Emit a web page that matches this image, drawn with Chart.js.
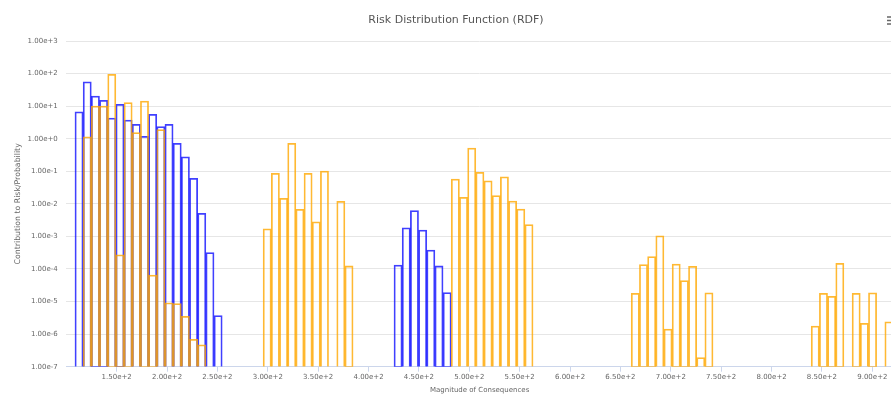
<!DOCTYPE html>
<html>
<head>
<meta charset="utf-8">
<title>Risk Distribution Function (RDF)</title>
<script src="https://cdn.jsdelivr.net/npm/chart.js@4.4.1/dist/chart.umd.min.js"></script>
<style>
    html, body { margin: 0; padding: 0; background: #fff; overflow: hidden; }
    #wrap { width: 912px; height: 397px; }
</style>
</head>
<body>
<div id="wrap"><canvas id="rdfChart" width="912" height="397"></canvas></div>
<script>
// histogram bins: 100 bins of equal width starting at binStart
const binStart = 108.6;
const binWidth = 8.119;

const orangeBins = [1, 2, 3, 4, 5, 6, 7, 8, 9, 10, 11, 12, 13, 14, 15,
    23, 24, 25, 26, 27, 28, 29, 30, 32, 33,
    46, 47, 48, 49, 50, 51, 52, 53, 54, 55,
    68, 69, 70, 71, 72, 73, 74, 75, 76, 77,
    90, 91, 92, 93, 95, 96, 97, 99];
const orangeValues = [1.15, 10.1, 10.1, 95, 2.7e-4, 12.8, 1.53, 14.4, 6.5e-5, 1.9, 9.2e-6, 8.6e-6, 3.5e-6, 6.9e-7, 4.7e-7,
    1.7e-3, 0.087, 0.0148, 0.72, 6.8e-3, 0.087, 2.8e-3, 0.102, 0.012, 1.24e-4,
    0.058, 0.0159, 0.52, 0.093, 0.051, 0.0178, 0.068, 0.0122, 6.9e-3, 2.3e-3,
    1.8e-5, 1.36e-4, 2.4e-4, 1.05e-3, 1.44e-6, 1.42e-4, 4.4e-5, 1.21e-4, 1.9e-7, 1.87e-5,
    1.78e-6, 1.8e-5, 1.45e-5, 1.5e-4, 1.8e-5, 2.15e-6, 1.87e-5, 2.4e-6];

const blueBins = [0, 1, 2, 3, 4, 5, 6, 7, 8, 9, 10, 11, 12, 13, 14, 15, 16, 17,
    39, 40, 41, 42, 43, 44, 45];
const blueValues = [6.7, 56, 20.5, 15.1, 4.3, 11.4, 3.75, 2.77, 1.19, 5.6, 2.35, 2.77, 0.72, 0.28, 0.061, 5.1e-3, 3.2e-4, 3.7e-6,
    1.32e-4, 1.85e-3, 6.2e-3, 1.57e-3, 3.8e-4, 1.24e-4, 1.9e-5];

const xTicks = [150, 200, 250, 300, 350, 400, 450, 500, 550, 600, 650, 700, 750, 800, 850, 900];
const yTicks = [1e-7, 1e-6, 1e-5, 1e-4, 1e-3, 1e-2, 1e-1, 1e0, 1e1, 1e2, 1e3];

const FONT = "'DejaVu Sans', 'Lucida Grande', sans-serif";
const LABEL_COLOR = '#666666';

function toPoints(bins, values) {
    return bins.map((b, i) => ({ x: binStart + (b + 0.5) * binWidth, y: values[i] }));
}

// the little export menu icon, cut by the right edge
const menuIcon = {
    id: 'menuIcon',
    afterDraw(chart) {
        const ctx = chart.ctx;
        ctx.save();
        ctx.strokeStyle = '#666666';
        ctx.lineWidth = 1.5;
        [17, 20.5, 24].forEach(y => {
            ctx.beginPath();
            ctx.moveTo(887, y);
            ctx.lineTo(900, y);
            ctx.stroke();
        });
        ctx.restore();
    }
};

new Chart(document.getElementById('rdfChart'), {
    type: 'bar',
    data: {
        datasets: [{
            label: 'Orange',
            data: toPoints(orangeBins, orangeValues),
            borderColor: 'rgba(255, 168, 0, 0.8)',
            backgroundColor: 'rgba(0, 0, 0, 0)',
            borderWidth: 1.1
        }, {
            label: 'Blue',
            data: toPoints(blueBins, blueValues),
            borderColor: 'rgba(0, 0, 255, 0.75)',
            backgroundColor: 'rgba(0, 0, 0, 0)',
            borderWidth: 1.1
        }]
    },
    options: {
        responsive: false,
        animation: false,
        layout: { padding: { left: 19, right: 19, top: 0, bottom: 0 } },
        datasets: { bar: { grouped: false, barPercentage: 1, categoryPercentage: 1 } },
        scales: {
            x: {
                type: 'linear',
                min: 100,
                max: 920.5,
                offset: false,
                afterBuildTicks: scale => { scale.ticks = xTicks.map(v => ({ value: v })); },
                afterFit: scale => { scale.height = 30.3; },
                ticks: {
                    autoSkip: false,
                    maxRotation: 0,
                    padding: 1,
                    color: LABEL_COLOR,
                    font: { family: FONT, size: 7 },
                    callback: v => Number(v).toExponential(2)
                },
                grid: { drawOnChartArea: false, offset: false, drawTicks: true, tickLength: 5, color: '#ccd6eb' },
                border: { color: '#ccd6eb' },
                title: {
                    display: true,
                    text: 'Magnitude of Consequences',
                    color: LABEL_COLOR,
                    font: { family: FONT, size: 7 },
                    padding: { top: 0, bottom: 2.8 }
                }
            },
            y: {
                type: 'logarithmic',
                min: 1e-7,
                max: 1e3,
                afterBuildTicks: scale => { scale.ticks = yTicks.map(v => ({ value: v })); },
                afterFit: scale => { scale.width = 47.3; },
                ticks: {
                    padding: 8.5,
                    color: LABEL_COLOR,
                    font: { family: FONT, size: 7 },
                    callback: v => Number(v).toExponential(2)
                },
                grid: { color: '#e6e6e6', drawTicks: false },
                border: { display: false },
                title: {
                    display: true,
                    text: 'Contribution to Risk/Probability',
                    color: LABEL_COLOR,
                    font: { family: FONT, size: 7.8 },
                    padding: { top: -5.7, bottom: 0 }
                }
            }
        },
        plugins: {
            legend: { display: false },
            tooltip: { enabled: false },
            title: {
                display: true,
                text: 'Risk Distribution Function (RDF)',
                color: '#555555',
                font: { family: FONT, size: 11, weight: 'normal' },
                padding: { top: 13.4, bottom: 14.4 }
            }
        }
    },
    plugins: [menuIcon]
});
</script>
</body>
</html>
